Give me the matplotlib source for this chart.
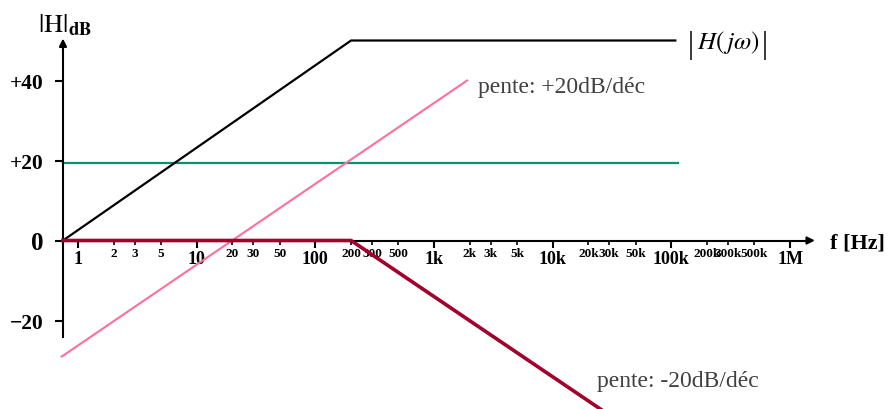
import matplotlib
matplotlib.use('Agg')
import matplotlib.pyplot as plt
from matplotlib.ticker import FixedLocator, FixedFormatter

plt.rcParams['font.family'] = ['Liberation Serif', 'DejaVu Serif']
plt.rcParams['mathtext.fontset'] = 'stix'

# asymptotes (f en Hz, gain en dB)
f_black = [0.747, 200, 1.08e5]
db_black = [0, 50, 50]
f_green = [0.747, 1.13e5]
db_green = [19.5, 19.5]
f_pink = [0.73, 1900]
db_pink = [-29, 40]
f_red = [0.747, 200, 26000]
db_red = [0, 0, -42.4]

major_ticks = [1, 10, 100, 1e3, 1e4, 1e5, 1e6]
major_labels = ['1', '10', '100', '1k', '10k', '100k', '1M']
minor_ticks = [2, 3, 5, 20, 30, 50, 200, 300, 500, 2e3, 3e3, 5e3,
               2e4, 3e4, 5e4, 2e5, 3e5, 5e5]
minor_labels = ['2', '3', '5', '20', '30', '50', '200', '300', '500',
                '2k', '3k', '5k', '20k', '30k', '50k', '200k', '300k', '500k']
y_ticks = [-20, 0, 20, 40]
y_labels = ['\u221220', '0', '+20', '+40']

W, H = 890, 410
PX_ONE = 78       # pixel of 1 Hz
PX_DEC = 118.67   # pixels per decade
PX_ZERO = 241.5   # pixel of 0 dB
PX_DB = 4.0       # pixels per dB

fig = plt.figure(figsize=(W / 100, H / 100), dpi=100)
ax = fig.add_axes([0, 0, 1, 1])
ax.set_xscale('log')
ax.set_xlim(10 ** (-PX_ONE / PX_DEC), 10 ** ((W - PX_ONE) / PX_DEC))
ax.set_ylim((PX_ZERO - H) / PX_DB, PX_ZERO / PX_DB)

# axes as arrows
x0 = f_black[0]
x_tip = 1.62e6
y_tip = 50.5
ax.spines['top'].set_visible(False)
ax.spines['right'].set_visible(False)
ax.spines['left'].set_position(('data', x0))
ax.spines['bottom'].set_position(('data', 0))
ax.spines['left'].set_bounds(-24, y_tip - 1)
ax.spines['bottom'].set_bounds(x0, x_tip / 1.1)
ax.spines['left'].set_linewidth(1.5)
ax.spines['bottom'].set_linewidth(1.5)
ax.annotate('', xy=(x_tip, 0), xytext=(x_tip / 1.15, 0),
            arrowprops=dict(arrowstyle='-|>', color='black', lw=1.5,
                            mutation_scale=11, shrinkA=0, shrinkB=0))
ax.annotate('', xy=(x0, y_tip), xytext=(x0, y_tip - 3),
            arrowprops=dict(arrowstyle='-|>', color='black', lw=1.5,
                            mutation_scale=11, shrinkA=0, shrinkB=0))

# x ticks
ax.xaxis.set_major_locator(FixedLocator(major_ticks))
ax.xaxis.set_major_formatter(FixedFormatter(major_labels))
ax.xaxis.set_minor_locator(FixedLocator(minor_ticks))
ax.xaxis.set_minor_formatter(FixedFormatter(minor_labels))
ax.tick_params(axis='x', which='major', direction='out', length=5, width=1.5,
               labelsize=13, pad=2)
ax.tick_params(axis='x', which='minor', direction='out', length=3, width=1.2,
               labelsize=9.5, pad=2)

# y ticks
ax.set_yticks(y_ticks, y_labels)
ax.tick_params(axis='y', direction='out', length=6, width=1.5, labelsize=15.5, pad=8)
ax.get_yticklabels()[1].set_fontsize(18)

for lab in ax.get_xticklabels(which='both') + ax.get_yticklabels():
    lab.set_fontweight('bold')

# courbes
ax.plot(f_green, db_green, color='#0e8f6e', lw=1.6, zorder=2)
ax.plot(f_pink, db_pink, color='#ff6f9a', lw=1.5, zorder=2)
ax.plot(f_black, db_black, color='black', lw=1.6, zorder=3)
ax.plot(f_red, db_red, color='#a3002b', lw=2.6, zorder=3, clip_on=False)

# textes
fig.text(38 / W, 1 - 32 / H, r'$|\mathrm{H}|_{\mathbf{dB}}$', fontsize=19,
         ha='left', va='baseline')
# |H(jw)| : barres plus hautes que le contenu
fig.text(691 / W, 1 - 45 / H, '|', fontsize=22, ha='center', va='center')
fig.text(728 / W, 1 - 43 / H, r'$H\left(\,j\omega\right)$',
         fontsize=18, ha='center', va='center')
fig.text(765 / W, 1 - 45 / H, '|', fontsize=22, ha='center', va='center')
fig.text(478 / W, 1 - 87 / H, 'pente: +20dB/déc', fontsize=17, color='#404040',
         ha='left', va='center')
fig.text(597 / W, 1 - 382 / H, 'pente: -20dB/déc', fontsize=17, color='#404040',
         ha='left', va='center')
fig.text(830 / W, 1 - 244 / H, 'f [Hz]', fontsize=16, fontweight='bold',
         ha='left', va='center')

fig.savefig('out.png', dpi=100)
